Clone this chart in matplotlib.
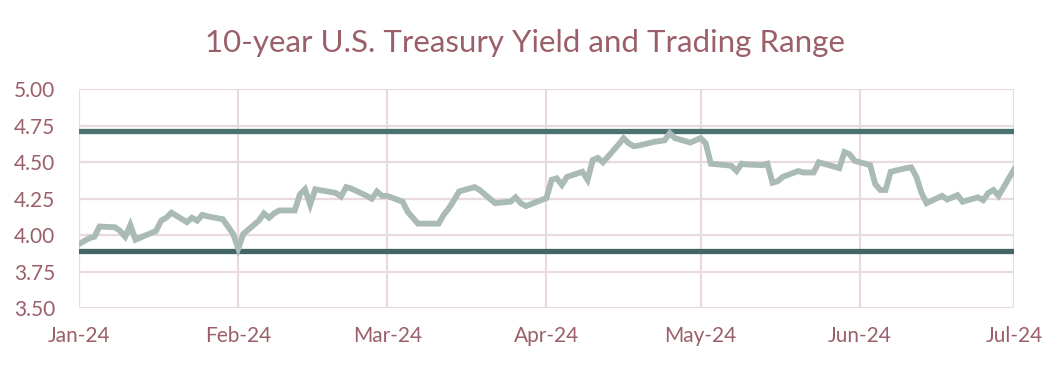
import numpy as np
import matplotlib
matplotlib.use('Agg')
from matplotlib import pyplot as plt
import matplotlib.dates as mdates

# daily 10y yield
dates = ['2024-01-01', '2024-01-02', '2024-01-03', '2024-01-04', '2024-01-05',
         '2024-01-08', '2024-01-09', '2024-01-10', '2024-01-11', '2024-01-12',
         '2024-01-16', '2024-01-17', '2024-01-18', '2024-01-19',
         '2024-01-22', '2024-01-23', '2024-01-24', '2024-01-25', '2024-01-26',
         '2024-01-29', '2024-01-30', '2024-01-31', '2024-02-01', '2024-02-02',
         '2024-02-05', '2024-02-06', '2024-02-07', '2024-02-08', '2024-02-09',
         '2024-02-12', '2024-02-13', '2024-02-14', '2024-02-15', '2024-02-16',
         '2024-02-20', '2024-02-21', '2024-02-22', '2024-02-23',
         '2024-02-26', '2024-02-27', '2024-02-28', '2024-02-29', '2024-03-01',
         '2024-03-04', '2024-03-05', '2024-03-06', '2024-03-07', '2024-03-08',
         '2024-03-11', '2024-03-12', '2024-03-13', '2024-03-14', '2024-03-15',
         '2024-03-18', '2024-03-19', '2024-03-20', '2024-03-21', '2024-03-22',
         '2024-03-25', '2024-03-26', '2024-03-27', '2024-03-28',
         '2024-04-01', '2024-04-02', '2024-04-03', '2024-04-04', '2024-04-05',
         '2024-04-08', '2024-04-09', '2024-04-10', '2024-04-11', '2024-04-12',
         '2024-04-15', '2024-04-16', '2024-04-17', '2024-04-18', '2024-04-19',
         '2024-04-22', '2024-04-23', '2024-04-24', '2024-04-25', '2024-04-26',
         '2024-04-29', '2024-04-30', '2024-05-01', '2024-05-02', '2024-05-03',
         '2024-05-06', '2024-05-07', '2024-05-08', '2024-05-09', '2024-05-10',
         '2024-05-13', '2024-05-14', '2024-05-15', '2024-05-16', '2024-05-17',
         '2024-05-20', '2024-05-21', '2024-05-22', '2024-05-23', '2024-05-24',
         '2024-05-28', '2024-05-29', '2024-05-30', '2024-05-31',
         '2024-06-03', '2024-06-04', '2024-06-05', '2024-06-06', '2024-06-07',
         '2024-06-10', '2024-06-11', '2024-06-12', '2024-06-13', '2024-06-14',
         '2024-06-17', '2024-06-18', '2024-06-20', '2024-06-21',
         '2024-06-24', '2024-06-25', '2024-06-26', '2024-06-27', '2024-06-28',
         '2024-07-01']
yields = [3.94, 3.96, 3.98, 3.99, 4.06,
          4.055, 4.03, 3.99, 4.07, 3.97,
          4.03, 4.10, 4.12, 4.155,
          4.09, 4.12, 4.10, 4.14, 4.13,
          4.11, 4.06, 4.01, 3.91, 4.01,
          4.10, 4.15, 4.12, 4.15, 4.17,
          4.17, 4.28, 4.315, 4.21, 4.315,
          4.29, 4.265, 4.33, 4.32,
          4.27, 4.25, 4.30, 4.27, 4.27,
          4.23, 4.16, 4.12, 4.08, 4.08,
          4.08, 4.14, 4.185, 4.24, 4.30,
          4.33, 4.31, 4.28, 4.25, 4.22,
          4.23, 4.26, 4.22, 4.20,
          4.255, 4.38, 4.39, 4.345, 4.40,
          4.435, 4.38, 4.515, 4.53, 4.50,
          4.62, 4.665, 4.63, 4.61, 4.615,
          4.64, 4.645, 4.65, 4.70, 4.665,
          4.635, 4.65, 4.665, 4.63, 4.49,
          4.48, 4.475, 4.44, 4.49, 4.485,
          4.48, 4.49, 4.36, 4.37, 4.40,
          4.44, 4.43, 4.43, 4.43, 4.50,
          4.46, 4.57, 4.555, 4.51,
          4.48, 4.35, 4.31, 4.31, 4.435,
          4.46, 4.465, 4.40, 4.29, 4.22,
          4.27, 4.245, 4.275, 4.23,
          4.26, 4.24, 4.29, 4.31, 4.27,
          4.45]
range_low = 3.89
range_high = 4.715
month_ticks = ['2024-01-01', '2024-02-01', '2024-03-01', '2024-04-01',
               '2024-05-01', '2024-06-01', '2024-07-01']

text_col = '#9b5f6a'
grid_col = '#e8dadd'

plt.rcParams['font.family'] = ['Lato', 'DejaVu Sans']

x = np.array(dates, dtype='datetime64[D]')
xt = np.array(month_ticks, dtype='datetime64[D]')

fig = plt.figure(figsize=(10.57, 3.83), dpi=100)
ax = fig.add_axes([0.0747, 0.195, 0.8846, 0.572])

ax.plot([xt[0], xt[-1]], [range_high, range_high], color='#4b726f', lw=3.8,
        solid_capstyle='round', zorder=3)
ax.plot([xt[0], xt[-1]], [range_low, range_low], color='#416664', lw=3.8,
        solid_capstyle='round', zorder=3)
ax.plot(x, yields, color='#a9bab7', lw=4.2, solid_joinstyle='miter', zorder=4)

ax.set_xlim(xt[0], xt[-1])
ax.set_ylim(3.5, 5.0)
ax.set_yticks(np.arange(3.5, 5.01, 0.25))
ax.yaxis.set_major_formatter(matplotlib.ticker.FormatStrFormatter('%.2f'))
ax.set_xticks(xt)
ax.xaxis.set_major_formatter(mdates.DateFormatter('%b-%y'))

ax.grid(True, color=grid_col, lw=1.6)
ax.set_axisbelow(True)
for s in ax.spines.values():
    s.set_visible(False)
ax.tick_params(length=0, labelsize=15, colors=text_col)
ax.tick_params(axis='y', pad=17)
ax.tick_params(axis='x', pad=13)

fig.suptitle('10-year U.S. Treasury Yield and Trading Range', x=0.497, y=0.925,
             fontsize=22.5, color=text_col)

fig.savefig('out.png', dpi=100)
